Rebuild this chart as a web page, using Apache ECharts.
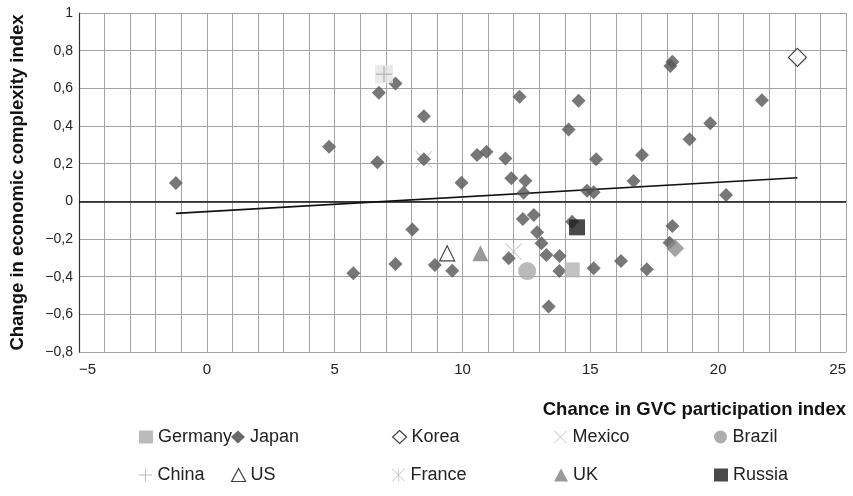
<!DOCTYPE html>
<html><head><meta charset="utf-8">
<script src="https://cdn.jsdelivr.net/npm/echarts@6/dist/echarts.min.js"></script>
<style>html,body{margin:0;padding:0;background:#fff}#c{width:853px;height:496px}</style>
</head><body><div id="c"></div>
<script>
// ---- data ----
const japan = [
  [-1.21,0.097],[4.78,0.29],[6.73,0.576],[7.38,0.626],[6.67,0.207],[8.49,0.452],[8.49,0.223],
  [10.57,0.246],[10.94,0.263],[11.68,0.228],[9.96,0.099],[11.91,0.122],[12.46,0.109],[12.39,0.046],
  [12.23,0.555],[14.54,0.534],[14.15,0.382],[15.23,0.223],[17.02,0.246],[16.69,0.108],[14.87,0.056],
  [15.13,0.048],[20.31,0.033],[18.21,0.741],[18.13,0.718],[21.71,0.537],[19.69,0.414],[18.88,0.329],
  [8.04,-0.149],[7.38,-0.333],[5.73,-0.382],[8.92,-0.338],[9.6,-0.368],[11.81,-0.302],[12.36,-0.094],
  [12.79,-0.073],[12.92,-0.164],[13.09,-0.223],[13.28,-0.285],[13.8,-0.29],[13.79,-0.37],[13.37,-0.559],
  [14.29,-0.108],[15.13,-0.355],[16.2,-0.317],[17.21,-0.361],[18.21,-0.131],[18.1,-0.22]
];
const germany = [[14.29,-0.364]];
const korea = [[23.1,0.764]];
const mexico = [[8.49,0.223]];
const brazil = [[12.53,-0.37]];
const china = [[6.93,0.675]];
const us = [[9.4,-0.276]];
const france = [[12.0,-0.267]];
const uk = [[10.7,-0.276]];
const russia = [[14.48,-0.138]];
const otherPoint = [[18.32,-0.249]];
const trend = [[-1.21,-0.064],[23.1,0.125]];
const legendNames = ['Germany','Japan','Korea','Mexico','Brazil','China','US','France','UK','Russia'];

// ---- presentation ----
const SANS = '"Liberation Sans",Arial,sans-serif';
const plusPath = 'path://M0,9.2H20V10.8H0Z M9.2,0H10.8V20H9.2Z';
const xPath = 'path://M0,0.8L0.8,0L20,19.2L19.2,20Z M19.2,0L20,0.8L0.8,20L0,19.2Z';
const starPath = 'path://M0,0.8L0.8,0L20,19.2L19.2,20Z M19.2,0L20,0.8L0.8,20L0,19.2Z M9.4,0H10.6V20H9.4Z';

function fmt(v){
  const r = Math.round(v*10)/10;
  const s = Math.abs(r).toString().replace('.', ',');
  return (r < 0 ? '\u2212' : '') + s;
}

function sc(name, data, symbol, size, itemStyle, z){
  return {type:'scatter', name, data, symbol, symbolSize:size, itemStyle, z:z||3,
          emphasis:{disabled:true}, animation:false};
}

const series = [
  {type:'line', name:'trend', data:trend, showSymbol:false, symbol:'none',
   lineStyle:{color:'#111', width:1.6}, z:2, animation:false, silent:true,
   markLine:{silent:true, symbol:'none', label:{show:false}, animation:false,
     lineStyle:{color:'#111', width:1.6, type:'solid'}, data:[{yAxis:0}]}},
  sc('Mexico', mexico, xPath, 17, {color:'#bdbdbd'}, 3),
  sc('France', france, starPath, 17, {color:'#bdbdbd'}, 3),
  sc('Japan', japan, 'diamond', 14, {color:'#555555'}, 4),
  sc('other', otherPoint, 'diamond', 18, {color:'#8c8c8c'}, 5),
  sc('Germany', germany, 'rect', 15, {color:'#b3b3b3'}, 5),
  sc('Korea', korea, 'diamond', 18, {color:'#ffffff', borderColor:'#111', borderWidth:1.2}, 5),
  sc('Brazil', brazil, 'circle', 18, {color:'#a9a9a9'}, 5),
  sc('China', china, 'rect', 18, {color:'#e3e3e3'}, 5),
  sc('chinaPlus', china, plusPath, 16, {color:'#a5a5a5'}, 6),
  sc('US', us, 'triangle', 15, {color:'#ffffff', borderColor:'#111', borderWidth:1.2}, 5),
  sc('UK', uk, 'triangle', 16, {color:'#7f7f7f'}, 5),
  sc('Russia', russia, 'rect', 16, {color:'#1c1c1c'}, 5)
];

const legendIcons = {
  Germany:{icon:'rect', itemStyle:{color:'#aaaaaa'}},
  Japan:{icon:'diamond', itemStyle:{color:'#444'}},
  Korea:{icon:'diamond', itemStyle:{color:'#fff', borderColor:'#111', borderWidth:1.2}},
  Mexico:{icon:xPath, itemStyle:{color:'#b8b8b8'}},
  Brazil:{icon:'circle', itemStyle:{color:'#999'}},
  China:{icon:plusPath, itemStyle:{color:'#aaaaaa'}},
  US:{icon:'triangle', itemStyle:{color:'#fff', borderColor:'#111', borderWidth:1.2}},
  France:{icon:starPath, itemStyle:{color:'#b8b8b8'}},
  UK:{icon:'triangle', itemStyle:{color:'#7f7f7f'}},
  Russia:{icon:'rect', itemStyle:{color:'#1c1c1c'}}
};
const colLeft = [139, 231, 392, 554, 714];
const rowTop = [428, 466];
const legends = legendNames.map((n, i) => ({
  data:[Object.assign({name:n}, legendIcons[n])],
  left: colLeft[i % 5], top: rowTop[Math.floor(i / 5)],
  itemWidth:14, itemHeight:13, selectedMode:false, padding:0,
  textStyle:{fontSize:18, fontFamily:SANS, color:'#222'}
}));

const chart = echarts.init(document.getElementById('c'), null, {renderer:'canvas'});
chart.setOption({
  animation:false,
  backgroundColor:'#fff',
  grid:{left:78, right:7, top:13, bottom:144, containLabel:false},
  xAxis:{type:'value', min:-5, max:25, interval:5,
    axisLine:{show:false, onZero:false}, axisTick:{show:false},
    axisLabel:{margin:10, fontSize:15, fontFamily:SANS, color:'#222', formatter:fmt,
      alignMinLabel:'left', alignMaxLabel:'right'},
    splitLine:{show:true, lineStyle:{color:'#a3a3a3', width:1}},
    minorTick:{show:false, splitNumber:5},
    minorSplitLine:{show:true, lineStyle:{color:'#a3a3a3', width:1}}},
  yAxis:{type:'value', min:-0.8, max:1, interval:0.2,
    axisLine:{show:true, onZero:false, lineStyle:{color:'#333', width:1.2}}, axisTick:{show:false},
    axisLabel:{margin:6, fontSize:14, fontFamily:SANS, color:'#222', formatter:fmt},
    splitLine:{show:true, lineStyle:{color:'#a3a3a3', width:1}},
    name:'Change in economic complexity index', nameLocation:'middle', nameRotate:90, nameGap:52,
    nameTextStyle:{fontSize:18.5, fontWeight:'bold', fontFamily:SANS, color:'#111'}},
  legend: legends,
  graphic:[{type:'text', right:7, top:400,
    style:{text:'Chance in GVC participation index', font:'bold 18.5px ' + SANS, fill:'#111'}}],
  series
});
</script>
</body></html>
